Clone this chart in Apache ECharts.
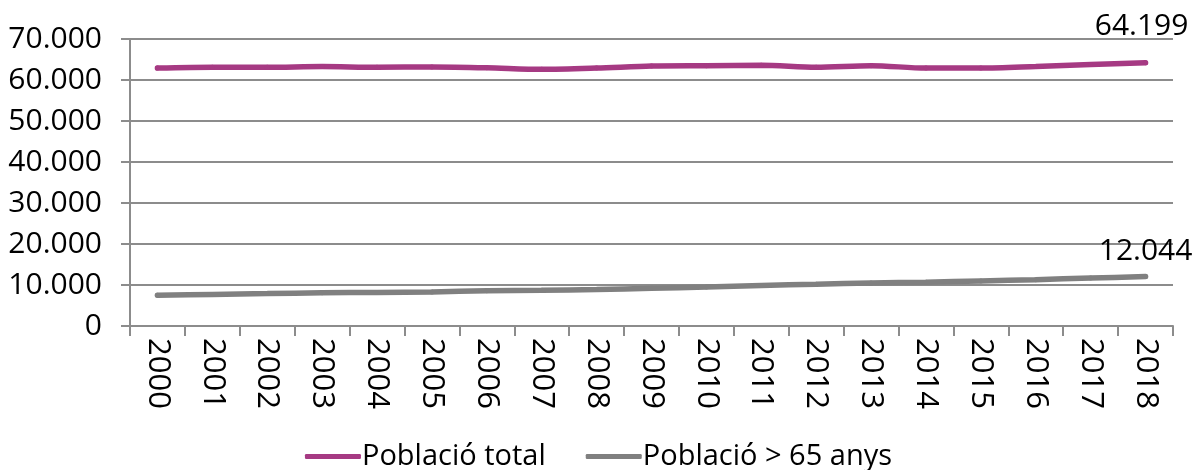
<!DOCTYPE html>
<html>
<head>
<meta charset="utf-8">
<script src="https://cdn.jsdelivr.net/npm/echarts@6/dist/echarts.min.js"></script>
<style>
    html, body { margin: 0; padding: 0; background: #fff; }
    #chart { width: 1197px; height: 470px; }
</style>
</head>
<body>
<div id="chart"></div>
<script>
var years = ['2000', '2001', '2002', '2003', '2004', '2005', '2006', '2007', '2008', '2009',
    '2010', '2011', '2012', '2013', '2014', '2015', '2016', '2017', '2018'];
var poblacioTotal = [62900, 63100, 63100, 63300, 63100, 63200, 63000, 62600, 62900, 63400,
    63500, 63600, 63100, 63500, 62900, 62900, 63300, 63800, 64199];
var poblacio65 = [7500, 7700, 7900, 8100, 8200, 8300, 8600, 8700, 8900, 9200,
    9500, 9900, 10200, 10500, 10700, 11000, 11300, 11700, 12044];
var yTicks = [0, 10000, 20000, 30000, 40000, 50000, 60000, 70000];

function fmt(v) {
    // 70000 -> 70.000
    return v.toString().replace(/\B(?=(\d{3})+(?!\d))/g, '.');
}

// only the last point gets a label
function lastLabel(data) {
    var out = [];
    for (var i = 0; i < data.length; i++) {
        if (i == data.length - 1) {
            out.push({ value: data[i], label: { show: true } });
        } else {
            out.push(data[i]);
        }
    }
    return out;
}

var font = '"Open Sans", sans-serif';
var myChart = echarts.init(document.getElementById('chart'));
var option = {
    animation: false,
    textStyle: { fontFamily: font },
    grid: { left: 130, right: 24, top: 39, bottom: 144 },
    legend: {
        bottom: -6,
        left: 'center',
        itemWidth: 56,
        itemHeight: 5,
        itemGap: 40,
        icon: 'roundRect',
        textStyle: { fontSize: 29, color: '#000', fontFamily: font, padding: [0, 0, 0, -4] },
        data: ['Població total', 'Població > 65 anys']
    },
    xAxis: {
        type: 'category',
        data: years,
        boundaryGap: true,
        axisLine: { lineStyle: { color: '#8c8c8c', width: 2 } },
        axisTick: { show: true, length: 10, lineStyle: { color: '#8c8c8c', width: 2 } },
        axisLabel: { rotate: -90, fontSize: 31, color: '#000', margin: 12, fontFamily: font }
    },
    yAxis: {
        type: 'value',
        min: 0,
        max: 70000,
        interval: 10000,
        axisLine: { show: true, lineStyle: { color: '#8c8c8c', width: 2 } },
        axisTick: { show: true, length: 9, lineStyle: { color: '#8c8c8c', width: 2 } },
        splitLine: { lineStyle: { color: '#8c8c8c', width: 2 } },
        axisLabel: {
            fontSize: 30, color: '#000', margin: 28, fontFamily: font,
            formatter: function (v) { return fmt(v); }
        }
    },
    series: [
        {
            name: 'Població total',
            type: 'line',
            data: lastLabel(poblacioTotal),
            smooth: 0.3,
            symbol: 'circle',
            symbolSize: 5,
            showSymbol: true,
            lineStyle: { color: '#a63a83', width: 5.5, cap: 'round' },
            itemStyle: { color: '#a63a83' },
            label: {
                show: false, position: 'top', distance: 19, offset: [-4, 0],
                fontSize: 30, color: '#000', fontFamily: font,
                formatter: function (p) { return fmt(p.value); }
            }
        },
        {
            name: 'Població > 65 anys',
            type: 'line',
            data: lastLabel(poblacio65),
            smooth: 0.3,
            symbol: 'circle',
            symbolSize: 5,
            showSymbol: true,
            lineStyle: { color: '#808080', width: 5.5, cap: 'round' },
            itemStyle: { color: '#808080' },
            label: {
                show: false, position: 'top', distance: 8,
                fontSize: 30, color: '#000', fontFamily: font,
                formatter: function (p) { return fmt(p.value); }
            }
        }
    ]
};
myChart.setOption(option);
</script>
</body>
</html>
